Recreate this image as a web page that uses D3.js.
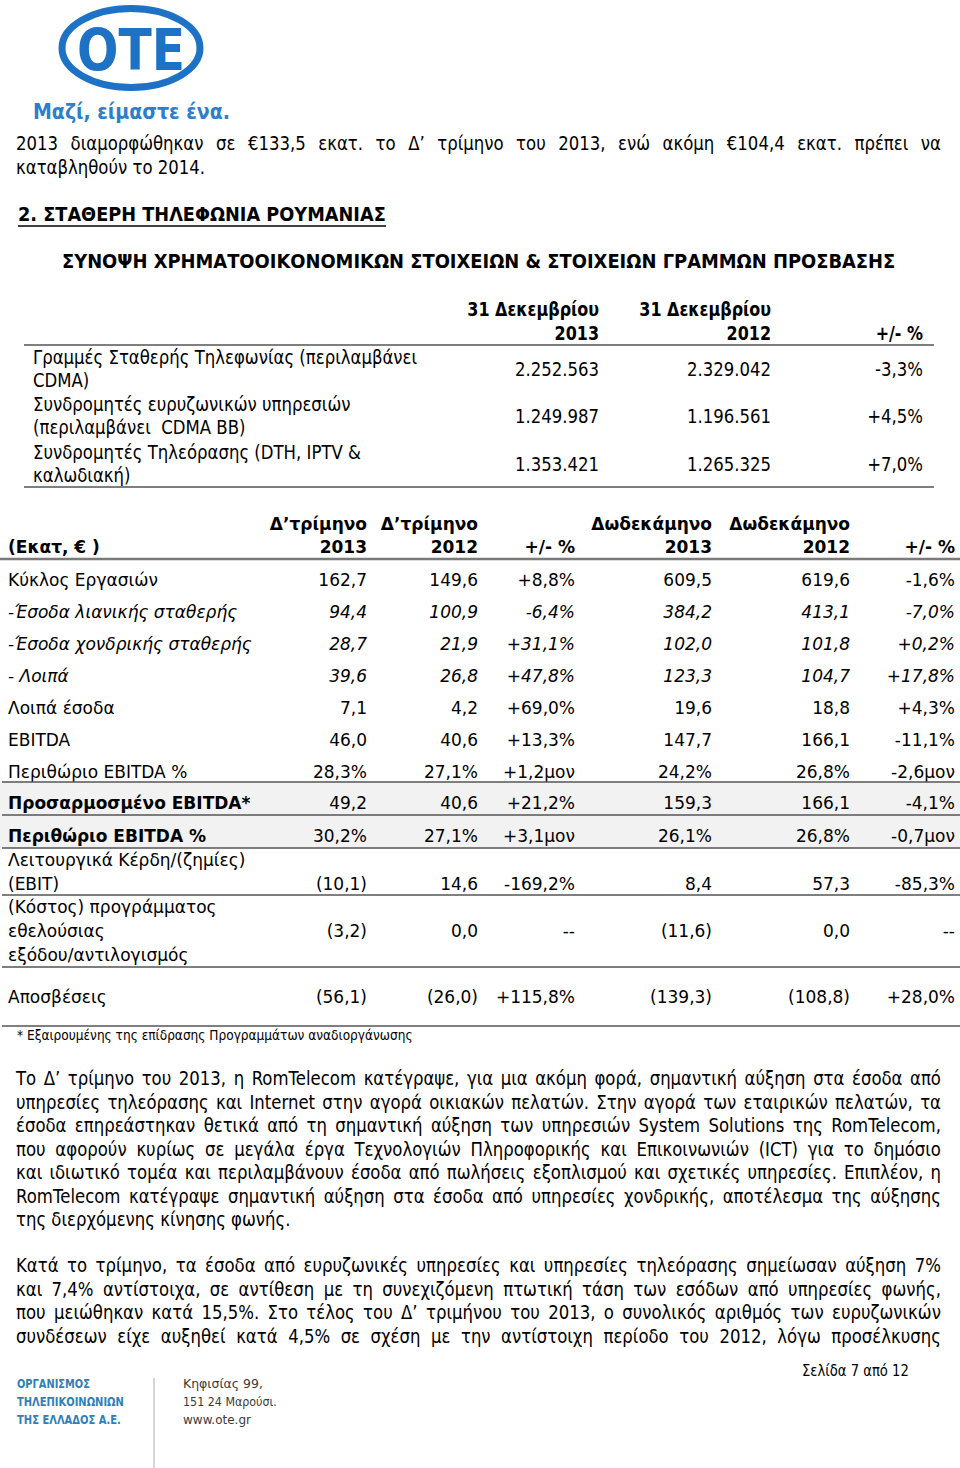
<!DOCTYPE html>
<html><head><meta charset="utf-8">
<script src="https://cdn.jsdelivr.net/npm/d3@7"></script>
<style>body{margin:0;background:#fff} svg{display:block} text{white-space:pre}</style>
</head><body>
<svg id="page" width="960" height="1468"></svg>
<script>
// ---------------- DATA ----------------
const logoWord = "ΟΤΕ";
const logoSlogan = "Μαζί, είμαστε ένα.";
const introLines = [
  "2013 διαμορφώθηκαν σε €133,5 εκατ. το Δ’ τρίμηνο του 2013, ενώ ακόμη €104,4 εκατ. πρέπει να",
  "καταβληθούν το 2014."
];
const sectionTitle = "2. ΣΤΑΘΕΡΗ ΤΗΛΕΦΩΝΙΑ ΡΟΥΜΑΝΙΑΣ";
const summaryTitle = "ΣΥΝΟΨΗ ΧΡΗΜΑΤΟΟΙΚΟΝΟΜΙΚΩΝ ΣΤΟΙΧΕΙΩΝ & ΣΤΟΙΧΕΙΩΝ ΓΡΑΜΜΩΝ ΠΡΟΣΒΑΣΗΣ";

const accessColumns = ["dec2013", "dec2012", "change"];
const accessHeaders = [["31 Δεκεμβρίου", "2013"], ["31 Δεκεμβρίου", "2012"], ["", "+/- %"]];
const accessLabels = [
  ["Γραμμές Σταθερής Τηλεφωνίας (περιλαμβάνει", "CDMA)"],
  ["Συνδρομητές ευρυζωνικών υπηρεσιών", "(περιλαμβάνει  CDMA BB)"],
  ["Συνδρομητές Τηλεόρασης (DTH, IPTV &", "καλωδιακή)"]
];
const accessDec2013 = [2252563, 1249987, 1353421];
const accessDec2012 = [2329042, 1196561, 1265325];
const accessChange = ["-3,3%", "+4,5%", "+7,0%"];

const finColumns = ["q2013", "q2012", "qchg", "fy2013", "fy2012", "fychg"];
const finHeaders = [["Δ’τρίμηνο", "2013"], ["Δ’τρίμηνο", "2012"], ["", "+/- %"],
                    ["Δωδεκάμηνο", "2013"], ["Δωδεκάμηνο", "2012"], ["", "+/- %"]];
const finUnitLabel = "(Εκατ, € )";
const finLabels = [
  ["Κύκλος Εργασιών"], ["-Έσοδα λιανικής σταθερής"], ["-Έσοδα χονδρικής σταθερής"], ["- Λοιπά"],
  ["Λοιπά έσοδα"], ["EBITDA"], ["Περιθώριο EBITDA %"], ["Προσαρμοσμένο EBITDA*"], ["Περιθώριο EBITDA %"],
  ["Λειτουργικά Κέρδη/(ζημίες)", "(EBIT)"], ["(Κόστος) προγράμματος", "εθελούσιας", "εξόδου/αντιλογισμός"],
  ["Αποσβέσεις"]
];
const finIsPercent = [0, 0, 0, 0, 0, 0, 1, 0, 1, 0, 0, 0];
const q4_2013 = [162.7, 94.4, 28.7, 39.6, 7.1, 46.0, 28.3, 49.2, 30.2, -10.1, -3.2, -56.1];
const q4_2012 = [149.6, 100.9, 21.9, 26.8, 4.2, 40.6, 27.1, 40.6, 27.1, 14.6, 0.0, -26.0];
const q4Change = ["+8,8%", "-6,4%", "+31,1%", "+47,8%", "+69,0%", "+13,3%", "+1,2μον", "+21,2%", "+3,1μον", "-169,2%", "--", "+115,8%"];
const fy_2013 = [609.5, 384.2, 102.0, 123.3, 19.6, 147.7, 24.2, 159.3, 26.1, 8.4, -11.6, -139.3];
const fy_2012 = [619.6, 413.1, 101.8, 104.7, 18.8, 166.1, 26.8, 166.1, 26.8, 57.3, 0.0, -108.8];
const fyChange = ["-1,6%", "-7,0%", "+0,2%", "+17,8%", "+4,3%", "-11,1%", "-2,6μον", "-4,1%", "-0,7μον", "-85,3%", "--", "+28,0%"];
const footnote = "* Εξαιρουμένης της επίδρασης Προγραμμάτων αναδιοργάνωσης";

const para2Lines = [
  "Το Δ’ τρίμηνο του 2013, η RomTelecom κατέγραψε, για μια ακόμη φορά, σημαντική αύξηση στα έσοδα από",
  "υπηρεσίες τηλεόρασης και Internet στην αγορά οικιακών πελατών. Στην αγορά των εταιρικών πελατών, τα",
  "έσοδα επηρεάστηκαν θετικά από τη σημαντική αύξηση των υπηρεσιών System Solutions της RomTelecom,",
  "που αφορούν κυρίως σε μεγάλα έργα Τεχνολογιών Πληροφορικής και Επικοινωνιών (ICT) για το δημόσιο",
  "και ιδιωτικό τομέα και περιλαμβάνουν έσοδα από πωλήσεις εξοπλισμού και σχετικές υπηρεσίες. Επιπλέον, η",
  "RomTelecom κατέγραψε σημαντική αύξηση στα έσοδα από υπηρεσίες χονδρικής, αποτέλεσμα της αύξησης",
  "της διερχόμενης κίνησης φωνής."
];
const para3Lines = [
  "Κατά το τρίμηνο, τα έσοδα από ευρυζωνικές υπηρεσίες και υπηρεσίες τηλεόρασης σημείωσαν αύξηση 7%",
  "και 7,4% αντίστοιχα, σε αντίθεση με τη συνεχιζόμενη πτωτική τάση των εσόδων από υπηρεσίες φωνής,",
  "που μειώθηκαν κατά 15,5%. Στο τέλος του Δ’ τριμήνου του 2013, ο συνολικός αριθμός των ευρυζωνικών",
  "συνδέσεων είχε αυξηθεί κατά 4,5% σε σχέση με την αντίστοιχη περίοδο του 2012, λόγω προσέλκυσης"
];
const pageLabel = "Σελίδα 7 από 12";
const footerOrg = ["ΟΡΓΑΝΙΣΜΟΣ", "ΤΗΛΕΠΙΚΟΙΝΩΝΙΩΝ", "ΤΗΣ ΕΛΛΑΔΟΣ Α.Ε."];
const footerAddress = ["Κηφισίας 99,", "151 24 Μαρούσι.", "www.ote.gr"];

// ---------------- LAYOUT / STYLE ----------------
const FONT = "'DejaVu Sans', Verdana, sans-serif";
const TAHOMA_K = 0.87;   // horizontal squeeze to emulate Tahoma with DejaVu Sans
const finRowHeights = [32, 32, 32, 32, 32, 32, 31, 33, 33, 47, 72, 59];
const finTextOffset = [21, 21, 21, 21, 21, 21, 21, 21, 21, 12, 12, 30];
const finRowStyle = ["normal", "italic", "italic", "italic", "normal", "normal", "normal", "bold", "bold", "normal", "normal", "normal"];
const finShaded = [7, 8];
const finRulesAfter = [6, 7, 8, 9, 10, 11];

const loc = d3.formatLocale({decimal: ",", thousands: ".", grouping: [3], currency: ["", "€"]});
const fmtInt = loc.format(",d");
const fmt1 = loc.format(",.1f");
const fmtFin = (v, pct) => v < 0 ? "(" + fmt1(-v) + ")" : fmt1(v) + (pct ? "%" : "");

const svg = d3.select("#page");

function addText(g, str, x, y, o = {}) {
  const t = g.append("text").text(str)
    .attr("font-family", o.family || FONT)
    .attr("font-size", o.size || 19)
    .attr("font-weight", o.weight || "normal")
    .attr("font-style", o.style || "normal")
    .attr("fill", o.fill || "#000")
    .attr("text-anchor", o.anchor || "start");
  if (o.spacing) t.attr("letter-spacing", o.spacing);
  let k = o.k == null ? 1 : o.k;
  if (o.width) k = o.width / t.node().getComputedTextLength();
  t.attr("transform", `translate(${x},${y}) scale(${k},1)`);
  return t;
}

function paragraph(lines, x0, width, firstBaseline, lineGap, justifyLast) {
  const size = 19;
  lines.forEach((line, i) => {
    const y = firstBaseline + i * lineGap;
    const t = svg.append("text")
      .attr("font-family", FONT).attr("font-size", size).attr("fill", "#000");
    const justify = i < lines.length - 1 || justifyLast;
    if (!justify) {
      t.text(line).attr("transform", `translate(${x0},${y}) scale(${TAHOMA_K},1)`);
      return;
    }
    const words = line.split(" ");
    const widths = words.map(w => {
      const s = t.append("tspan").text(w);
      const wd = s.node().getComputedTextLength();
      s.remove();
      return wd;
    });
    const sum = d3.sum(widths);
    let k = TAHOMA_K;
    const minGap = size * 0.22;
    let gap = (width / k - sum) / (words.length - 1);
    if (gap < minGap) {
      gap = minGap;
      k = width / (sum + minGap * (words.length - 1));
    }
    t.attr("transform", `translate(${x0},${y}) scale(${k},1)`);
    let cx = 0;
    words.forEach((w, j) => {
      t.append("tspan").attr("x", cx).text(w);
      cx += widths[j] + gap;
    });
  });
}

// ---------------- LOGO ----------------
const blue = "#1d72c6";
svg.append("ellipse").attr("cx", 131).attr("cy", 48).attr("rx", 69).attr("ry", 39.5)
  .attr("fill", "none").attr("stroke", blue).attr("stroke-width", 7);
addText(svg, logoWord, 131, 70, {size: 56, weight: "bold", fill: blue, anchor: "middle", width: 108});
addText(svg, logoSlogan, 33, 119, {size: 21, weight: "bold", fill: "#2a7fcf", width: 197});

// ---------------- INTRO ----------------
paragraph(introLines, 16, 925, 150, 24, false);
addText(svg, sectionTitle, 18, 221, {size: 19, weight: "bold", width: 368});
svg.append("line").attr("x1", 18).attr("x2", 386).attr("y1", 226).attr("y2", 226)
  .attr("stroke", "#000").attr("stroke-width", 1.6);
addText(svg, summaryTitle, 62, 268, {size: 19, weight: "bold", width: 834});

// ---------------- ACCESS LINES TABLE ----------------
const t1 = svg.append("g");
const t1x = d3.scaleOrdinal().domain(accessColumns).range([599, 771, 923]);
const t1RowTop = d3.scaleLinear().domain([0, accessLabels.length]).range([345, 487]);
accessHeaders.forEach((h, i) => {
  h.forEach((s, j) => {
    if (s) addText(t1, s, t1x(accessColumns[i]), 316 + j * 24, {size: 19, weight: "bold", anchor: "end", k: 0.84});
  });
});
const accessVals = [accessDec2013.map(fmtInt), accessDec2012.map(fmtInt), accessChange];
accessLabels.forEach((lab, r) => {
  const top = t1RowTop(r);
  lab.forEach((s, j) => addText(t1, s, 33, top + 19 + j * 23, {size: 19, k: TAHOMA_K}));
  accessVals.forEach((col, c) => addText(t1, col[r], t1x(accessColumns[c]), top + 31, {size: 19, anchor: "end", k: TAHOMA_K}));
});
[345, 487].forEach(y => t1.append("line").attr("x1", 24).attr("x2", 934).attr("y1", y).attr("y2", y)
  .attr("stroke", "#555").attr("stroke-width", 1.6));

// ---------------- FINANCIAL TABLE ----------------
const t2 = svg.append("g");
const tops = [559];
finRowHeights.forEach(h => tops.push(tops[tops.length - 1] + h));
const rowTop = d3.scaleOrdinal().domain(d3.range(tops.length)).range(tops);
const colX = d3.scaleOrdinal().domain(finColumns).range([367, 478, 575, 712, 850, 955]);

finShaded.forEach(r => t2.append("rect").attr("x", 0).attr("width", 960)
  .attr("y", rowTop(r)).attr("height", finRowHeights[r]).attr("fill", "#f2f2f2"));

const FS = 17;
addText(t2, finUnitLabel, 8, 553, {size: FS, weight: "bold"});
finHeaders.forEach((h, i) => h.forEach((s, j) => {
  if (s) addText(t2, s, colX(finColumns[i]), 530 + j * 23, {size: FS, weight: "bold", anchor: "end"});
}));
t2.append("line").attr("x1", 0).attr("x2", 960).attr("y1", 559).attr("y2", 559)
  .attr("stroke", "#7a7a7a").attr("stroke-width", 2.5);

const finCols = [
  q4_2013.map((v, i) => fmtFin(v, finIsPercent[i])),
  q4_2012.map((v, i) => fmtFin(v, finIsPercent[i])),
  q4Change,
  fy_2013.map((v, i) => fmtFin(v, finIsPercent[i])),
  fy_2012.map((v, i) => fmtFin(v, finIsPercent[i])),
  fyChange
];
finLabels.forEach((lab, r) => {
  const top = rowTop(r);
  const st = finRowStyle[r];
  const o = {size: FS, style: st === "italic" ? "italic" : "normal", weight: st === "bold" ? "bold" : "normal"};
  lab.forEach((s, j) => addText(t2, s, 8, top + finTextOffset[r] + 6 + j * 24, o));
  const vLine = Math.floor(lab.length / 2);
  const vy = top + finTextOffset[r] + 6 + vLine * 24;
  finCols.forEach((col, c) => addText(t2, col[r], colX(finColumns[c]), vy,
    {size: FS, style: o.style, anchor: "end"}));
});
finRulesAfter.forEach(r => {
  const y = rowTop(r + 1);
  t2.append("line").attr("x1", 2).attr("x2", 960).attr("y1", y).attr("y2", y)
    .attr("stroke", "#555").attr("stroke-width", 1.6);
});
addText(svg, footnote, 17, 1040, {size: 14, width: 396});

// ---------------- BODY TEXT ----------------
paragraph(para2Lines, 16, 925, 1085, 23.5, false);
paragraph(para3Lines, 16, 925, 1272, 23.7, true);

// ---------------- FOOTER ----------------
addText(svg, pageLabel, 802, 1376, {size: 15, width: 107});
footerOrg.forEach((s, i) => addText(svg, s, 17, 1388 + i * 18, {size: 11.5, weight: "bold", fill: "#2f7fb9", width: [73, 107, 104][i]}));
footerAddress.forEach((s, i) => addText(svg, s, 183, 1388 + i * 18, {size: 12.5, fill: "#3a3a3a", width: [80, 94, 68][i]}));
svg.append("line").attr("x1", 154).attr("x2", 154).attr("y1", 1378).attr("y2", 1468)
  .attr("stroke", "#c8c8c8").attr("stroke-width", 1.5);
</script>
</body></html>
